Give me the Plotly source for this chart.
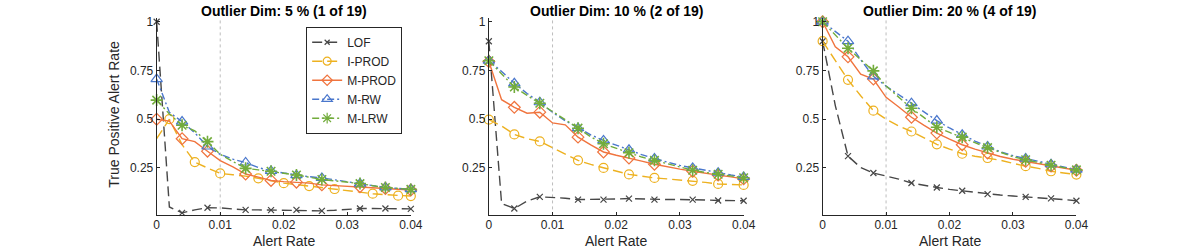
import plotly.graph_objects as go

# ---------------- data ----------------
X = [0.000, 0.002, 0.004, 0.006, 0.008, 0.010, 0.012, 0.014, 0.016, 0.018, 0.020,
     0.022, 0.024, 0.026, 0.028, 0.030, 0.032, 0.034, 0.036, 0.038, 0.040]

TITLES = ["Outlier Dim: 5 % (1 of 19)", "Outlier Dim: 10 % (2 of 19)", "Outlier Dim: 20 % (4 of 19)"]
SERIES = ["LOF", "I-PROD", "M-PROD", "M-RW", "M-LRW"]
X_LABEL = "Alert Rate"
Y_LABEL = "True Positive Alert Rate"

# panel 1 (5 %)
P1_LOF   = [1.00, 0.05, 0.02, 0.035, 0.046, 0.045, 0.040, 0.035, 0.035, 0.034, 0.034,
            0.035, 0.032, 0.030, 0.033, 0.037, 0.042, 0.042, 0.042, 0.040, 0.040]
P1_IPROD = [0.40, 0.50, 0.37, 0.28, 0.25, 0.222, 0.215, 0.208, 0.197, 0.185, 0.172,
            0.165, 0.157, 0.150, 0.142, 0.135, 0.128, 0.118, 0.113, 0.108, 0.106]
P1_MPROD = [0.50, 0.49, 0.40, 0.385, 0.336, 0.288, 0.255, 0.219, 0.203, 0.186, 0.180,
            0.177, 0.172, 0.163, 0.160, 0.157, 0.154, 0.149, 0.145, 0.141, 0.137]
P1_MRW   = [0.706, 0.535, 0.488, 0.43, 0.36, 0.32, 0.295, 0.278, 0.252, 0.235, 0.224,
            0.213, 0.205, 0.199, 0.189, 0.180, 0.170, 0.162, 0.150, 0.145, 0.141]
P1_MLRW  = [0.598, 0.527, 0.469, 0.44, 0.385, 0.32, 0.283, 0.248, 0.240, 0.233, 0.223,
            0.214, 0.203, 0.191, 0.184, 0.177, 0.170, 0.159, 0.150, 0.145, 0.140]

# panel 2 (10 %)
P2_LOF   = [0.90, 0.068, 0.042, 0.080, 0.102, 0.100, 0.095, 0.088, 0.088, 0.088, 0.091,
            0.093, 0.091, 0.088, 0.088, 0.088, 0.088, 0.086, 0.083, 0.082, 0.082]
P2_IPROD = [0.498, 0.465, 0.422, 0.40, 0.386, 0.355, 0.320, 0.289, 0.268, 0.250, 0.233,
            0.217, 0.208, 0.199, 0.194, 0.189, 0.184, 0.176, 0.168, 0.165, 0.163]
P2_MPROD = [0.796, 0.600, 0.561, 0.531, 0.536, 0.481, 0.471, 0.408, 0.368, 0.332, 0.315,
            0.301, 0.285, 0.269, 0.255, 0.244, 0.233, 0.222, 0.213, 0.204, 0.194]
P2_MRW   = [0.80, 0.745, 0.684, 0.632, 0.587, 0.535, 0.492, 0.454, 0.420, 0.391, 0.365,
            0.343, 0.318, 0.298, 0.280, 0.263, 0.250, 0.237, 0.226, 0.214, 0.204]
P2_MLRW  = [0.80, 0.735, 0.665, 0.622, 0.582, 0.540, 0.498, 0.454, 0.410, 0.374, 0.349,
            0.328, 0.306, 0.289, 0.271, 0.253, 0.238, 0.227, 0.218, 0.208, 0.200]

# panel 3 (20 %)
P3_LOF   = [0.90, 0.57, 0.311, 0.252, 0.224, 0.210, 0.193, 0.173, 0.160, 0.150, 0.140,
            0.133, 0.124, 0.116, 0.111, 0.106, 0.102, 0.098, 0.094, 0.088, 0.082]
P3_IPROD = [0.90, 0.80, 0.702, 0.620, 0.544, 0.500, 0.465, 0.437, 0.404, 0.371, 0.347,
            0.323, 0.310, 0.301, 0.290, 0.274, 0.259, 0.248, 0.233, 0.224, 0.216]
P3_MPROD = [1.00, 0.871, 0.820, 0.731, 0.706, 0.612, 0.563, 0.510, 0.468, 0.429, 0.398,
            0.369, 0.347, 0.327, 0.309, 0.295, 0.284, 0.272, 0.260, 0.248, 0.238]
P3_MRW   = [1.00, 0.950, 0.900, 0.805, 0.720, 0.670, 0.625, 0.582, 0.535, 0.493, 0.455,
            0.420, 0.388, 0.360, 0.333, 0.313, 0.298, 0.282, 0.269, 0.255, 0.241]
P3_MLRW  = [1.00, 0.930, 0.864, 0.805, 0.748, 0.670, 0.612, 0.556, 0.508, 0.459, 0.432,
            0.408, 0.380, 0.354, 0.330, 0.308, 0.292, 0.277, 0.264, 0.252, 0.240]

PANELS = [
    [P1_LOF, P1_IPROD, P1_MPROD, P1_MRW, P1_MLRW],
    [P2_LOF, P2_IPROD, P2_MPROD, P2_MRW, P2_MLRW],
    [P3_LOF, P3_IPROD, P3_MPROD, P3_MRW, P3_MLRW],
]

MARK_IDX = [0, 2, 4, 7, 9, 11, 13, 16, 18, 20]
MARK_IDX_SHIFT = [1, 3, 5, 8, 10, 12, 14, 17, 19, 20]   # I-PROD, first panel

REF_RATE = 0.01
X_TICKS = [0, 0.01, 0.02, 0.03, 0.04]
X_TICKTEXT = ["0", "0.01", "0.02", "0.03", "0.04"]
Y_TICKS = [0.25, 0.5, 0.75, 1]
Y_TICKTEXT = ["0.25", "0.5", "0.75", "1"]

# ---------------- styles ----------------
COLORS = ["#474747", "#EDB120", "#F0743E", "#4A77CC", "#72AC3C"]
DASHES = ["10px,5px", "10px,5px", "solid", "7px,3px,2px,3px", "7px,3px,2px,3px"]
SYMBOLS = ["x-thin-open", "circle-open", "diamond-open", "triangle-up-open", "asterisk-open"]
MSIZES = [6, 9, 9, 10, 10]

FONT = "Liberation Sans, Arial, Helvetica, sans-serif"
TXT = "#262626"

W, H = 1200, 250
XDOM = [(155.6, 413.0), (492.0, 750.0), (830.0, 1087.0)]
YDOM = (15.0, 215.0)

fig = go.Figure()

for p, series_vals in enumerate(PANELS):
    ax = "" if p == 0 else str(p + 1)
    for s, yv in enumerate(series_vals):
        idx = MARK_IDX_SHIFT if (p == 0 and s == 1) else MARK_IDX
        fig.add_trace(go.Scatter(
            x=X, y=yv, mode="lines", xaxis="x" + ax, yaxis="y" + ax,
            line=dict(color=COLORS[s], width=1.4, dash=DASHES[s]),
            showlegend=False, hoverinfo="skip"))
        fig.add_trace(go.Scatter(
            x=[X[i] for i in idx], y=[yv[i] for i in idx], mode="markers",
            xaxis="x" + ax, yaxis="y" + ax, cliponaxis=False,
            marker=dict(symbol=SYMBOLS[s], size=MSIZES[s], color=COLORS[s],
                        line=dict(color=COLORS[s], width=1.6 if s == 4 else 1.2)),
            showlegend=False))
    fig.add_shape(type="line", xref="x" + ax, yref="y" + ax + " domain",
                  x0=REF_RATE, x1=REF_RATE, y0=0, y1=1,
                  line=dict(color="#BDBDBD", width=1, dash="dot"), layer="below")

# legend entries
for s, name in enumerate(SERIES):
    fig.add_trace(go.Scatter(
        x=[None], y=[None], mode="lines+markers", name=name,
        line=dict(color=COLORS[s], width=1.4, dash=DASHES[s]),
        marker=dict(symbol=SYMBOLS[s], size=MSIZES[s] - 1, color=COLORS[s],
                    line=dict(color=COLORS[s], width=1.2))))

annotations = []
layout = dict(
    width=W, height=H, margin=dict(l=0, r=0, t=0, b=0),
    paper_bgcolor="white", plot_bgcolor="white",
    font=dict(family=FONT, size=12, color=TXT),
    legend=dict(x=307 / W, y=1 - 24 / H, xanchor="left", yanchor="top",
                bgcolor="white", bordercolor=TXT, borderwidth=1,
                font=dict(size=12, color=TXT), tracegroupgap=0,
                itemwidth=30),
)

for p in range(3):
    ax = "" if p == 0 else str(p + 1)
    x0, x1 = XDOM[p]
    layout["xaxis" + ax] = dict(
        domain=[x0 / W, x1 / W], range=[0, 0.04], anchor="y" + ax,
        tickvals=X_TICKS, ticktext=X_TICKTEXT, ticks="inside", ticklen=3,
        tickcolor=TXT, showline=True, linecolor=TXT, linewidth=1,
        showgrid=False, zeroline=False, tickfont=dict(size=12, color=TXT),
        ticklabelstandoff=-2)
    layout["yaxis" + ax] = dict(
        domain=[1 - YDOM[1] / H, 1 - YDOM[0] / H], range=[0.0066, 1.02], anchor="x" + ax,
        tickvals=Y_TICKS, ticktext=Y_TICKTEXT, ticks="inside", ticklen=3,
        tickcolor=TXT, showline=True, linecolor=TXT, linewidth=1,
        showgrid=False, zeroline=False, tickfont=dict(size=12, color=TXT))
    annotations.append(dict(
        text="<b>" + TITLES[p] + "</b>", xref="paper", yref="paper",
        x=(x0 + x1) / 2 / W, y=1 - 8 / H, xanchor="center", yanchor="middle",
        showarrow=False, font=dict(size=14, color="black")))
    annotations.append(dict(
        text=X_LABEL, xref="paper", yref="paper",
        x=(x0 + x1) / 2 / W, y=1 - 241 / H, xanchor="center", yanchor="middle",
        showarrow=False, font=dict(size=14, color=TXT)))

annotations.append(dict(
    text=Y_LABEL, xref="paper", yref="paper", textangle=-90,
    x=113 / W, y=1 - 112.5 / H, xanchor="center", yanchor="middle",
    showarrow=False, font=dict(size=14, color=TXT)))

layout["annotations"] = annotations
fig.update_layout(**layout)
fig.write_html("out.html", config={"displayModeBar": False},
               post_script="document.body.style.margin='0px';document.body.style.overflow='hidden';")
